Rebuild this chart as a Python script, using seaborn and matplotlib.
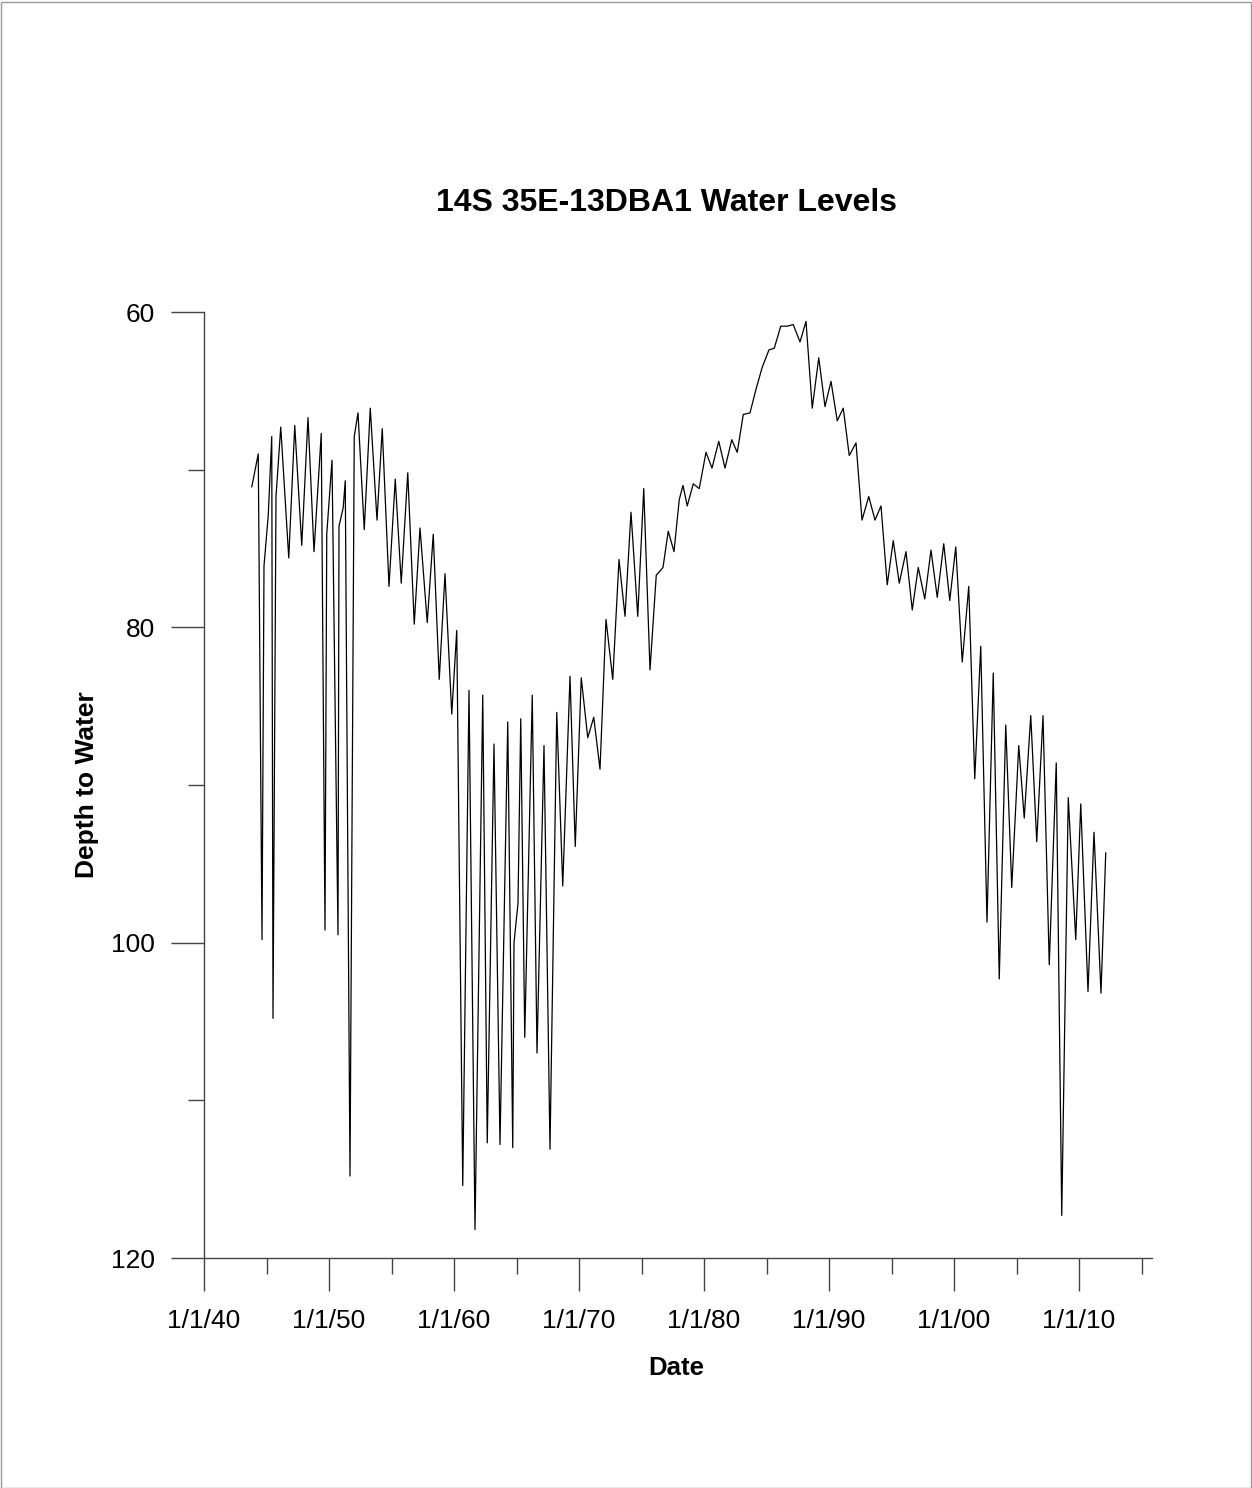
import matplotlib
matplotlib.use("Agg")
import matplotlib.pyplot as plt
from matplotlib.patches import Rectangle
from matplotlib.ticker import MultipleLocator, FixedLocator
import seaborn as sns
import pandas as pd

# measurement dates (decimal years) and depth to water (ft)
years = [
    1943.82, 1944.34, 1944.64, 1944.80, 1945.14, 1945.42, 1945.52, 1945.76, 1946.14, 1946.78,
    1947.26, 1947.82, 1948.32, 1948.80, 1949.38, 1949.68, 1949.82, 1950.24, 1950.72, 1950.80,
    1951.14, 1951.30, 1951.68, 1952.02, 1952.32, 1952.82, 1953.30, 1953.84, 1954.26, 1954.80,
    1955.30, 1955.78, 1956.30, 1956.82, 1957.28, 1957.86, 1958.34, 1958.82, 1959.28, 1959.82,
    1960.22, 1960.70, 1961.20, 1961.68, 1962.30, 1962.66, 1963.20, 1963.68, 1964.30, 1964.70,
    1964.80, 1965.12, 1965.34, 1965.66, 1966.26, 1966.64, 1967.20, 1967.68, 1968.22, 1968.70,
    1969.28, 1969.70, 1970.18, 1970.70, 1971.18, 1971.68, 1972.16, 1972.70, 1973.20, 1973.68,
    1974.16, 1974.70, 1975.18, 1975.68, 1976.18, 1976.72, 1977.14, 1977.60, 1978.02, 1978.32,
    1978.66, 1979.14, 1979.62, 1980.16, 1980.64, 1981.18, 1981.68, 1982.22, 1982.66, 1983.14,
    1983.68, 1984.16, 1984.66, 1985.20, 1985.62, 1986.14, 1986.66, 1987.14, 1987.68, 1988.16,
    1988.66, 1989.18, 1989.68, 1990.16, 1990.66, 1991.14, 1991.62, 1992.16, 1992.64, 1993.18,
    1993.68, 1994.16, 1994.66, 1995.14, 1995.62, 1996.16, 1996.66, 1997.14, 1997.66, 1998.16,
    1998.66, 1999.18, 1999.66, 2000.14, 2000.66, 2001.18, 2001.66, 2002.14, 2002.64, 2003.14,
    2003.62, 2004.14, 2004.62, 2005.18, 2005.62, 2006.14, 2006.62, 2007.12, 2007.62, 2008.18,
    2008.62, 2009.14, 2009.74, 2010.14, 2010.72, 2011.20, 2011.76, 2012.14,
]
depth = [
    71.1, 69.0, 99.8, 76.1, 72.9, 67.9, 104.8, 71.7, 67.3, 75.6,
    67.2, 74.8, 66.7, 75.2, 67.7, 99.2, 74.1, 69.4, 99.5, 73.6,
    72.4, 70.7, 114.8, 67.9, 66.4, 73.8, 66.1, 73.2, 67.4, 77.4,
    70.6, 77.2, 70.2, 79.8, 73.7, 79.7, 74.1, 83.3, 76.6, 85.5,
    80.2, 115.4, 84.0, 118.2, 84.3, 112.7, 87.4, 112.8, 86.0, 113.0,
    100.0, 97.5, 85.8, 106.0, 84.3, 107.0, 87.5, 113.1, 85.4, 96.4,
    83.1, 93.9, 83.2, 87.0, 85.7, 89.0, 79.5, 83.3, 75.7, 79.3,
    72.7, 79.3, 71.2, 82.7, 76.7, 76.2, 73.9, 75.2, 71.9, 71.0,
    72.3, 70.9, 71.2, 68.9, 69.9, 68.2, 69.9, 68.1, 68.9, 66.5,
    66.4, 64.9, 63.5, 62.4, 62.3, 60.9, 60.9, 60.8, 61.9, 60.6,
    66.1, 62.9, 66.0, 64.4, 66.9, 66.1, 69.1, 68.3, 73.2, 71.7,
    73.2, 72.3, 77.3, 74.5, 77.2, 75.2, 78.9, 76.2, 78.2, 75.1,
    78.1, 74.7, 78.3, 74.9, 82.2, 77.4, 89.6, 81.2, 98.7, 82.9,
    102.3, 86.2, 96.5, 87.5, 92.1, 85.6, 93.6, 85.6, 101.4, 88.6,
    117.3, 90.8, 99.8, 91.2, 103.1, 93.0, 103.2, 94.3,
]

x_ticks = [1940, 1950, 1960, 1970, 1980, 1990, 2000, 2010]
x_labels = ["1/1/40", "1/1/50", "1/1/60", "1/1/70", "1/1/80", "1/1/90", "1/1/00", "1/1/10"]
y_ticks = [60, 80, 100, 120]

df = pd.DataFrame({"year": years, "depth": depth})

sns.set_style("ticks")
plt.rcParams["font.family"] = ["Liberation Sans", "DejaVu Sans"]
plt.rcParams["text.color"] = "black"
plt.rcParams["axes.labelcolor"] = "black"

fig = plt.figure(figsize=(12.52, 14.88), dpi=100)
ax = fig.add_axes([204 / 1252, 230 / 1488, 948 / 1252, 946 / 1488])

sns.lineplot(data=df, x="year", y="depth", ax=ax, sort=False, estimator=None,
             color="black", linewidth=0.9)

ax.set_xlim(1940, 2015.84)
ax.set_ylim(120, 60)

ax.xaxis.set_major_locator(FixedLocator(x_ticks))
ax.set_xticklabels(x_labels)
ax.xaxis.set_minor_locator(MultipleLocator(5))
ax.yaxis.set_major_locator(FixedLocator(y_ticks))
ax.yaxis.set_minor_locator(MultipleLocator(10))

for s in ["top", "right"]:
    ax.spines[s].set_visible(False)
for s in ["left", "bottom"]:
    ax.spines[s].set_color("#444444")
    ax.spines[s].set_linewidth(1.0)

ax.tick_params(which="major", direction="out", length=23.5, width=1.0, color="#444444",
               labelsize=19, labelcolor="black")
ax.tick_params(axis="x", which="major", pad=13)
ax.tick_params(axis="y", which="major", pad=12)
ax.tick_params(which="minor", direction="out", length=11.5, width=1.0, color="#444444")

ax.set_xlabel("Date", fontsize=18.5, fontweight="bold")
ax.set_ylabel("Depth to Water", fontsize=19, fontweight="bold")
ax.xaxis.set_label_coords((676 - 204) / 948, -(1368 - 1258) / 946)
ax.xaxis.label.set_va("center")
ax.yaxis.set_label_coords((87 - 204) / 948, 0.5)
ax.yaxis.label.set_va("center")

fig.text(666 / 1252, 1 - 203 / 1488, "14S 35E-13DBA1 Water Levels",
         fontsize=23, fontweight="bold", ha="center", va="center")

fig.patches.append(Rectangle((0.5 / 1252, 0.5 / 1488), 1 - 2 / 1252, 1 - 2 / 1488,
                             transform=fig.transFigure, fill=False,
                             edgecolor="#999999", linewidth=1))

fig.savefig("out.png", dpi=100)
